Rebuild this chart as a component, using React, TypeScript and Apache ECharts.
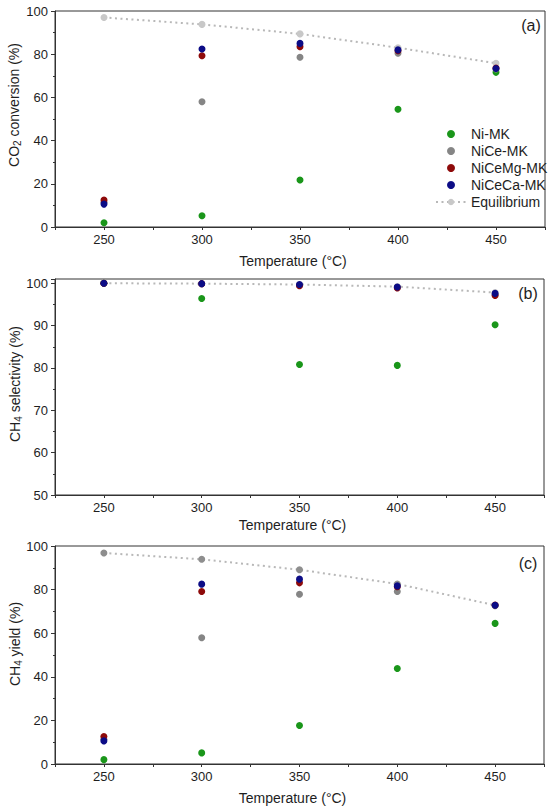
import React, { useEffect, useRef } from "react";
import * as echarts from "echarts";

const TEMPS = [250, 300, 350, 400, 450];
const SERIES_NAMES = ["Ni-MK", "NiCe-MK", "NiCeMg-MK", "NiCeCa-MK", "Equilibrium"];

// (a) CO2 conversion (%)
const CONV_NI = [2.0, 5.2, 21.8, 54.5, 71.6];
const CONV_NICE = [11.5, 58.0, 78.6, 80.4, 73.2];
const CONV_NICEMG = [12.5, 79.3, 83.5, 81.6, 73.6];
const CONV_NICECA = [10.6, 82.4, 85.0, 82.0, 73.4];
const CONV_EQ = [97.0, 93.8, 89.4, 83.0, 75.8];

// (b) CH4 selectivity (%)
const SEL_NI = [100, 96.4, 80.8, 80.6, 90.2];
const SEL_NICE = [100, 99.9, 99.5, 99.0, 97.3];
const SEL_NICEMG = [100, 99.9, 99.4, 98.9, 97.1];
const SEL_NICECA = [100, 99.9, 99.7, 99.1, 97.6];
const SEL_EQ = [100, 99.9, 99.7, 99.2, 97.8];

// (c) CH4 yield (%)
const YIELD_NI = [2.0, 5.1, 17.7, 43.8, 64.5];
const YIELD_NICE = [11.3, 57.9, 77.9, 79.1, 72.6];
const YIELD_NICEMG = [12.6, 79.1, 83.1, 81.3, 72.9];
const YIELD_NICECA = [10.6, 82.5, 84.8, 81.7, 72.8];
const YIELD_EQ = [96.8, 93.9, 89.1, 82.6, 72.8];

const COLORS = ["#1a961a", "#858585", "#8e0a0a", "#0c0c86"];
const EQ_COLOR = "#c8c8c8";
const EQ_COLOR_C = "#8e8e8e";
const EQ_LINE = "#b8b8b8";
const FONT = "'Liberation Sans', Arial, sans-serif";
const TEXT = "#1e1e1e";
const AXIS = "#333333";

const pairs = (ys: number[]) => TEMPS.map((t, i) => [t, ys[i]]);

export default function App() {
  const ref = useRef<HTMLDivElement>(null);

  useEffect(() => {
    if (!ref.current) return;
    const chart = echarts.init(ref.current, null, { renderer: "svg" });

    const grids = [
      { left: 55, top: 11, width: 490, height: 216 },
      { left: 55, top: 279, width: 489, height: 216 },
      { left: 55, top: 546, width: 489, height: 218 },
    ].map((g) => ({ ...g, show: true, borderColor: AXIS, borderWidth: 1, backgroundColor: "transparent" }));

    const xGaps = [27, 23, 27];
    const xAxes = [0, 1, 2].map((i) => ({
      type: "value",
      gridIndex: i,
      min: 225,
      max: 475,
      interval: 25,
      name: "Temperature (°C)",
      nameLocation: "middle",
      nameGap: xGaps[i],
      nameTextStyle: { fontFamily: FONT, fontSize: 14, color: TEXT, padding: [0, 14, 0, 0] },
      axisLine: { show: true, lineStyle: { color: AXIS, width: 1 } },
      axisTick: { show: true, length: 3, inside: false, lineStyle: { color: AXIS } },
      axisLabel: {
        margin: 6,
        fontFamily: FONT,
        fontSize: 13,
        color: TEXT,
        formatter: (v: number) => (v % 50 === 0 && v > 225 && v < 475 ? String(v) : ""),
      },
      splitLine: { show: false },
    }));

    const yDefs = [
      { min: 0, max: 100, interval: 20 },
      { min: 50, max: 101, interval: 10 },
      { min: 0, max: 100, interval: 20 },
    ];
    const yAxes = yDefs.map((d, i) => ({
      type: "value",
      gridIndex: i,
      min: d.min,
      max: d.max,
      interval: d.interval,
      axisLine: { show: true, lineStyle: { color: AXIS, width: 1 } },
      axisTick: { show: true, length: 4, lineStyle: { color: AXIS } },
      minorTick: { show: true, splitNumber: 2, length: 2, lineStyle: { color: AXIS } },
      axisLabel: {
        margin: 7,
        fontFamily: FONT,
        fontSize: 13,
        color: TEXT,
        formatter: (v: number) => (v % d.interval === 0 ? String(v) : ""),
      },
      splitLine: { show: false },
      minorSplitLine: { show: false },
    }));

    const panels = [
      { vals: [CONV_NI, CONV_NICE, CONV_NICEMG, CONV_NICECA], eq: CONV_EQ, eqColor: EQ_COLOR },
      { vals: [SEL_NI, SEL_NICE, SEL_NICEMG, SEL_NICECA], eq: SEL_EQ, eqColor: EQ_COLOR },
      { vals: [YIELD_NI, YIELD_NICE, YIELD_NICEMG, YIELD_NICECA], eq: YIELD_EQ, eqColor: EQ_COLOR_C },
    ];

    const series: any[] = [];
    panels.forEach((p, i) => {
      series.push({
        name: SERIES_NAMES[4],
        type: "line",
        xAxisIndex: i,
        yAxisIndex: i,
        data: pairs(p.eq),
        symbol: "circle",
        symbolSize: 7,
        showSymbol: true,
        itemStyle: { color: p.eqColor },
        lineStyle: { color: EQ_LINE, width: 2, type: [2, 3.5] },
        z: 1,
      });
      p.vals.forEach((v, k) => {
        series.push({
          name: SERIES_NAMES[k],
          type: "scatter",
          xAxisIndex: i,
          yAxisIndex: i,
          data: pairs(v),
          symbol: "circle",
          symbolSize: 7,
          itemStyle: { color: COLORS[k], opacity: 1 },
          z: 2 + k,
        });
      });
    });

    const yNames = [
      { x: 14, y: 105, a: "CO", s: "2", b: " conversion (%)" },
      { x: 15, y: 384, a: "CH", s: "4", b: " selectivity (%)" },
      { x: 15, y: 644, a: "CH", s: "4", b: " yield (%)" },
    ];
    const rich = {
      a: { fontSize: 14, lineHeight: 17, fontFamily: FONT, fill: TEXT, color: TEXT },
      s: { fontSize: 10, lineHeight: 10, verticalAlign: "bottom", fontFamily: FONT, fill: TEXT, color: TEXT },
    };

    const graphic: any[] = yNames.map((n) => ({
      type: "text",
      x: n.x,
      y: n.y,
      rotation: Math.PI / 2,
      style: {
        text: `{a|${n.a}}{s|${n.s}}{a|${n.b}}`,
        rich,
        fill: TEXT,
        font: `14px ${FONT}`,
        align: "center",
        verticalAlign: "middle",
        textAlign: "center",
        textVerticalAlign: "middle",
      },
    }));
    [
      { t: "(a)", x: 531, y: 25 },
      { t: "(b)", x: 528, y: 293 },
      { t: "(c)", x: 528, y: 563 },
    ].forEach((l) =>
      graphic.push({
        type: "text",
        x: l.x,
        y: l.y,
        style: {
          text: l.t,
          fill: TEXT,
          font: `16px ${FONT}`,
          align: "center",
          verticalAlign: "middle",
          textAlign: "center",
          textVerticalAlign: "middle",
        },
      })
    );

    chart.setOption({
      animation: false,
      backgroundColor: "#ffffff",
      grid: grids,
      xAxis: xAxes,
      yAxis: yAxes,
      legend: {
        data: SERIES_NAMES,
        orient: "vertical",
        left: 435,
        top: 127,
        padding: 0,
        itemWidth: 30,
        itemHeight: 8,
        itemGap: 3,
        textStyle: { fontFamily: FONT, fontSize: 14, color: TEXT, lineHeight: 14, padding: [0, 0, 0, 0] },
        selectedMode: false,
      },
      graphic,
      series,
    });

    return () => chart.dispose();
  }, []);

  return (
    <div
      ref={ref}
      style={{ position: "absolute", left: 0, top: 0, width: 550, height: 812, background: "#fff" }}
    />
  );
}
